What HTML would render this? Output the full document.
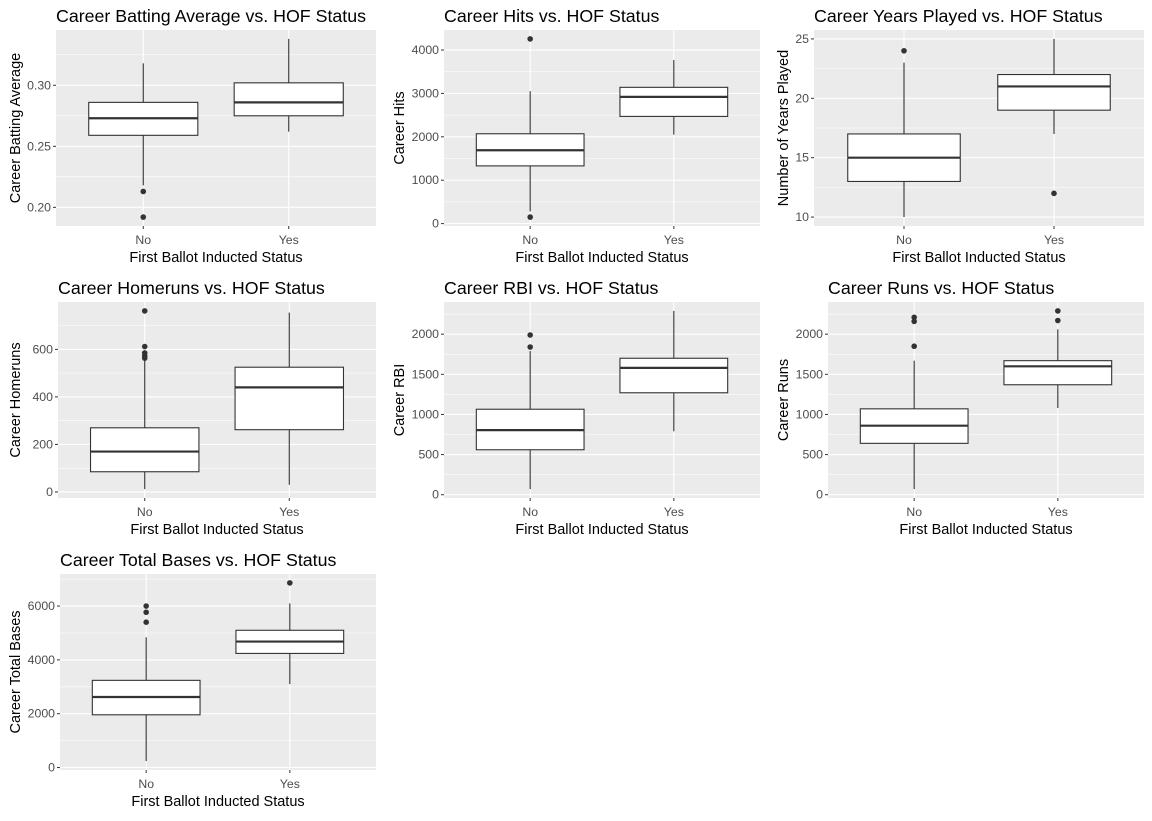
<!DOCTYPE html>
<html><head><meta charset="utf-8">
<style>
body{margin:0;background:#fff;}
svg text{font-family:"Liberation Sans",Arial,sans-serif;}
</style></head>
<body>
<svg id="chart" width="1152" height="816" xmlns="http://www.w3.org/2000/svg"></svg>
<script>
const categories = ["No", "Yes"];
const titles = ["Career Batting Average vs. HOF Status","Career Hits vs. HOF Status","Career Years Played vs. HOF Status","Career Homeruns vs. HOF Status","Career RBI vs. HOF Status","Career Runs vs. HOF Status","Career Total Bases vs. HOF Status"];
const yTitles = ["Career Batting Average","Career Hits","Number of Years Played","Career Homeruns","Career RBI","Career Runs","Career Total Bases"];
// box stats: [lower whisker, Q1, median, Q3, upper whisker]
const battingNo = [0.218, 0.259, 0.273, 0.286, 0.318];
const battingYes = [0.262, 0.275, 0.286, 0.302, 0.338];
const battingOutNo = [0.213, 0.192];
const battingOutYes = [];
const hitsNo = [280, 1330, 1690, 2070, 3050];
const hitsYes = [2050, 2470, 2920, 3140, 3770];
const hitsOutNo = [4256, 150];
const hitsOutYes = [];
const yearsNo = [10, 13, 15, 17, 23];
const yearsYes = [17, 19, 21, 22, 25];
const yearsOutNo = [24];
const yearsOutYes = [12];
const hrNo = [12, 85, 170, 270, 555];
const hrYes = [30, 262, 440, 525, 755];
const hrOutNo = [762, 612, 585, 573, 563];
const hrOutYes = [];
const rbiNo = [70, 560, 805, 1065, 1790];
const rbiYes = [790, 1270, 1580, 1700, 2290];
const rbiOutNo = [1990, 1840];
const rbiOutYes = [];
const runsNo = [70, 640, 860, 1070, 1670];
const runsYes = [1080, 1370, 1600, 1670, 2060];
const runsOutNo = [2210, 2160, 1850];
const runsOutYes = [2290, 2170];
const tbNo = [240, 1960, 2620, 3240, 4840];
const tbYes = [3100, 4240, 4680, 5100, 6100];
const tbOutNo = [6000, 5770, 5400];
const tbOutYes = [6860];
const tickLabels = [
  ["0.20","0.25","0.30"],
  ["0","1000","2000","3000","4000"],
  ["10","15","20","25"],
  ["0","200","400","600"],
  ["0","500","1000","1500","2000"],
  ["0","500","1000","1500","2000"],
  ["0","2000","4000","6000"]
];
const panels = [
  [battingNo,battingYes,battingOutNo,battingOutYes],
  [hitsNo,hitsYes,hitsOutNo,hitsOutYes],
  [yearsNo,yearsYes,yearsOutNo,yearsOutYes],
  [hrNo,hrYes,hrOutNo,hrOutYes],
  [rbiNo,rbiYes,rbiOutNo,rbiOutYes],
  [runsNo,runsYes,runsOutNo,runsOutYes],
  [tbNo,tbYes,tbOutNo,tbOutYes]
];
const plotLefts = [56,60,46,58,60,60,60];

const svg = document.getElementById('chart');
const NS = 'http://www.w3.org/2000/svg';
function mk(tag, attrs, parent){
  const e = document.createElementNS(NS, tag);
  for (const k in attrs) e.setAttribute(k, attrs[k]);
  (parent||svg).appendChild(e);
  return e;
}
panels.forEach((p, i) => {
  const col = i % 3, row = Math.floor(i / 3);
  const ox = col * 384, oy = row * 272;
  const L = ox + plotLefts[i], R = ox + 376, T = oy + 30, B = oy + 226;
  const g = mk('g', {});
  
  
  const all = [...p[0], ...p[1], ...p[2], ...p[3]];
  const mn = Math.min(...all), mx = Math.max(...all), ex = (mx - mn) * 0.05;
  const d0 = mn - ex, d1 = mx + ex;
  const y = v => B - (v - d0) / (d1 - d0) * (B - T);
  const unit = (R - L) / 2.2;
  const x = k => L + (0.6 + k) * unit;
  const bg = mk('rect', {x:L, y:T, width:R-L, height:B-T, fill:'#ebebeb'}, g);
  
  
  const ticks = tickLabels[i].map(Number);
  const step = ticks[1] - ticks[0];
  for (let v = ticks[0] - step/2; v <= d1; v += step) {
    if (v >= d0 && v <= d1) mk('line', {x1:L, x2:R, y1:y(v), y2:y(v), stroke:'#fff', 'stroke-width':0.55}, g);
  }
  ticks.forEach((v, j) => {
    mk('line', {x1:L, x2:R, y1:y(v), y2:y(v), stroke:'#fff', 'stroke-width':1.1}, g);
    mk('line', {x1:L-3, x2:L, y1:y(v), y2:y(v), stroke:'#333', 'stroke-width':1}, g);
    const t = mk('text', {x:L-5, y:y(v)+4, 'text-anchor':'end', 'font-size':12.3, fill:'#4d4d4d'}, g);
    t.textContent = tickLabels[i][j];
    
    
  });
  categories.forEach((c, k) => {
    mk('line', {x1:x(k), x2:x(k), y1:T, y2:B, stroke:'#fff', 'stroke-width':1.1}, g);
    mk('line', {x1:x(k), x2:x(k), y1:B, y2:B+3, stroke:'#333', 'stroke-width':1}, g);
    const t = mk('text', {x:x(k), y:oy+244, 'text-anchor':'middle', 'font-size':12.3, fill:'#4d4d4d'}, g);
    t.textContent = c;
    
    
    const s = p[k], hw = unit * 0.375;
    mk('line', {x1:x(k), x2:x(k), y1:y(s[4]), y2:y(s[3]), stroke:'#333', 'stroke-width':1.1}, g);
    mk('line', {x1:x(k), x2:x(k), y1:y(s[1]), y2:y(s[0]), stroke:'#333', 'stroke-width':1.1}, g);
    const box = mk('rect', {x:x(k)-hw, y:y(s[3]), width:2*hw, height:y(s[1])-y(s[3]), fill:'#fff', stroke:'#333', 'stroke-width':1.1}, g);
    
    
    mk('line', {x1:x(k)-hw, x2:x(k)+hw, y1:y(s[2]), y2:y(s[2]), stroke:'#333', 'stroke-width':2.2}, g);
    p[2+k].forEach(v => {
      const pt = mk('circle', {cx:x(k), cy:y(v), r:2.8, fill:'#333'}, g);
      
      
    });
  });
  const tt = mk('text', {x:L, y:oy+22, 'font-size':17.8, fill:'#000'}, g);
  tt.textContent = titles[i];
  
  
  const xt = mk('text', {x:(L+R)/2, y:oy+262, 'text-anchor':'middle', 'font-size':14.5, fill:'#000'}, g);
  xt.textContent = 'First Ballot Inducted Status';
  
  
  const cy = (T+B)/2, cx = ox + 20;
  const yt = mk('text', {x:cx, y:cy, 'text-anchor':'middle', 'font-size':14.5, fill:'#000', transform:`rotate(-90 ${cx} ${cy})`}, g);
  yt.textContent = yTitles[i];
  
  
});
</script>
</body></html>
